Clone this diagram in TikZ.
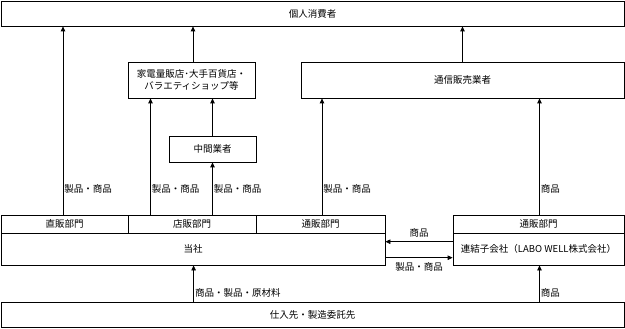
\documentclass[tikz,border=0pt]{standalone}
\usepackage{fontspec}
\setmainfont{Noto Sans CJK JP}
\usetikzlibrary{arrows.meta,positioning,calc}

\tikzset{
  box/.style={draw, line width=0.8pt, rectangle, inner sep=0pt, align=center, font=\fontsize{9.5}{12}\selectfont},
  flow/.style={draw, line width=0.8pt, -{Triangle[length=5pt,width=4.5pt]}},
  lbl/.style={font=\fontsize{9.5}{12}\selectfont, inner sep=1pt}
}

\begin{document}
\begin{tikzpicture}[x=1pt, y=-1pt]
    \useasboundingbox (0,0) rectangle (625,329);

    % Top: consumers
    \node[box, minimum width=623pt, minimum height=25pt] (consumer) at (312.5,13.5) {個人消費者};

    % Retailers and mail-order companies
    \node[box, minimum width=127pt, minimum height=36pt] (retail) at (191.5,80) {家電量販店･大手百貨店・\\バラエティショップ等};
    \node[box, minimum width=323pt, minimum height=36pt] (mail) at (462.5,80) {通信販売業者};

    % Intermediate dealer
    \node[box, minimum width=87pt, minimum height=26pt] (middle) at (212.5,149) {中間業者};

    % Company departments
    \node[box, minimum width=127pt, minimum height=18pt] (direct) at (64.5,224) {直販部門};
    \node[box, minimum width=128pt, minimum height=18pt] (store) at (192,224) {店販部門};
    \node[box, minimum width=129pt, minimum height=18pt] (tsuhan) at (320.5,224) {通販部門};
    \node[box, minimum width=384pt, minimum height=32pt] (company) at (193,249) {当社};

    % Subsidiary
    \node[box, minimum width=171pt, minimum height=18pt] (subdept) at (538.5,224) {通販部門};
    \node[box, minimum width=171pt, minimum height=32pt] (subsidiary) at (538.5,249) {連結子会社（LABO WELL株式会社）};

    % Bottom: suppliers
    \node[box, minimum width=623pt, minimum height=25pt] (supplier) at (312.5,314.5) {仕入先・製造委託先};

    % Flows up to consumers
    \draw[flow] ([xshift=-1.5pt]direct.north) -- ([xshift=-1.5pt]direct.north |- consumer.south)
        node[lbl, pos=0.137, anchor=west] {製品・商品};
    \draw[flow] ([xshift=1.5pt]retail.north) -- ([xshift=1.5pt]retail.north |- consumer.south);
    \draw[flow] (mail.north) -- (mail.north |- consumer.south);

    % Flows from departments
    \draw[flow] ([xshift=-41.5pt]store.north) -- ([xshift=-41.5pt]store.north |- retail.south)
        node[lbl, pos=0.222, anchor=west] {製品・商品};
    \draw[flow] (middle.south |- store.north) -- (middle.south)
        node[lbl, pos=0.49, anchor=west] {製品・商品};
    \draw[flow] (middle.north) -- (middle.north |- retail.south);
    \draw[flow] ([xshift=1.5pt]tsuhan.north) -- ([xshift=1.5pt]tsuhan.north |- mail.south)
        node[lbl, pos=0.222, anchor=west] {製品・商品};
    \draw[flow] ([xshift=1pt]subdept.north) -- ([xshift=1pt]subdept.north |- mail.south)
        node[lbl, pos=0.222, anchor=west] {商品};

    % Between company and subsidiary
    \draw[flow] ([yshift=7.3pt]subsidiary.west) -- ([yshift=7.3pt]subsidiary.west -| company.east)
        node[lbl, midway, above=3pt] {商品};
    \draw[flow] ([yshift=-8.7pt]company.east) -- ([yshift=-8.7pt]company.east -| subsidiary.west)
        node[lbl, midway, below=3pt] {製品・商品};

    % Flows from suppliers
    \draw[flow] ([xshift=0.6pt]supplier.north -| company.south) -- ([xshift=0.6pt]company.south)
        node[lbl, pos=0.24, anchor=west] {商品・製品・原材料};
    \draw[flow] ([xshift=1pt]subsidiary.south |- supplier.north) -- ([xshift=1pt]subsidiary.south)
        node[lbl, pos=0.24, anchor=west] {商品};
\end{tikzpicture}
\end{document}
